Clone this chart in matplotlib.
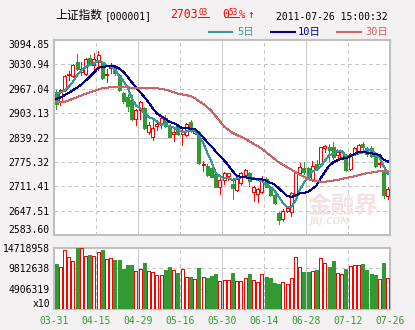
import matplotlib
matplotlib.use("Agg")
import matplotlib.pyplot as plt
from matplotlib.lines import Line2D

plt.rcParams['font.family'] = ['DejaVu Sans Mono', 'Noto Sans CJK SC']

# 上证指数 日K 2011-03-31 ~ 2011-07-26
opens = [2953.9, 2932.0, 2962.7, 3002.0, 2999.4, 3037.1, 3010.8, 3004.7, 3047.6, 3028.3,
         3041.4, 3037.1, 3003.8, 3021.3, 3023.9, 3002.0, 2955.6, 2945.1, 2936.4, 2886.5,
         2910.1, 2916.3, 2853.2, 2841.8, 2868.1, 2873.4, 2890.9, 2868.1, 2848.8, 2868.1,
         2848.8, 2844.5, 2879.5, 2850.6, 2853.2, 2766.5, 2765.6, 2758.7, 2743.8, 2708.8,
         2728.0, 2739.4, 2717.5, 2702.6, 2719.3, 2742.0, 2746.4, 2695.6, 2691.2, 2695.6,
         2730.6, 2710.5, 2688.6, 2641.3, 2625.6, 2647.5, 2643.1, 2691.2, 2745.5, 2759.6,
         2758.7, 2730.6, 2770.0, 2770.0, 2811.2, 2813.8, 2813.8, 2794.5, 2789.3, 2792.0,
         2756.9, 2798.0, 2803.3, 2822.6, 2811.2, 2811.2, 2796.3, 2770.0, 2754.3, 2686.9]
highs = [2962.7, 2967.0, 3002.0, 3012.6, 3030.9, 3057.2, 3037.0, 3047.6, 3054.6, 3060.7,
         3066.0, 3039.7, 3019.6, 3034.4, 3028.3, 3004.7, 2958.3, 2953.9, 2949.5, 2914.5,
         2933.8, 2919.0, 2879.5, 2882.1, 2882.1, 2892.6, 2897.0, 2873.4, 2864.6, 2873.4,
         2866.4, 2876.8, 2883.9, 2864.6, 2855.0, 2777.0, 2770.0, 2761.3, 2748.2, 2733.3,
         2748.2, 2747.3, 2730.6, 2733.3, 2748.2, 2757.0, 2748.2, 2713.1, 2707.0, 2739.4,
         2735.0, 2713.1, 2691.2, 2643.1, 2651.9, 2660.6, 2695.6, 2750.8, 2771.8, 2774.4,
         2763.0, 2777.0, 2780.4, 2815.6, 2820.8, 2822.6, 2826.9, 2806.8, 2807.7, 2796.3,
         2798.0, 2815.6, 2822.6, 2826.9, 2815.6, 2818.2, 2800.7, 2783.2, 2758.7, 2708.8]
lows = [2914.5, 2923.3, 2961.0, 2989.0, 2997.7, 3015.2, 3002.0, 3002.0, 3028.3, 3019.6,
        3015.2, 2993.3, 2985.0, 3009.0, 3002.0, 2960.9, 2929.4, 2908.4, 2883.9, 2870.7,
        2888.2, 2862.0, 2848.8, 2833.0, 2859.3, 2864.6, 2866.4, 2840.0, 2831.3, 2847.0,
        2820.8, 2842.7, 2853.2, 2848.8, 2770.0, 2752.5, 2739.4, 2735.0, 2708.8, 2691.2,
        2717.0, 2728.0, 2678.0, 2700.0, 2715.8, 2739.4, 2713.1, 2672.0, 2669.5, 2693.0,
        2708.8, 2686.9, 2664.9, 2612.5, 2621.2, 2643.1, 2634.4, 2689.5, 2742.0, 2743.8,
        2730.6, 2726.2, 2757.0, 2768.3, 2801.0, 2778.0, 2783.2, 2783.2, 2785.8, 2752.5,
        2755.2, 2794.5, 2801.0, 2809.4, 2792.0, 2789.3, 2763.0, 2761.3, 2680.7, 2678.0]
closes = [2927.6, 2964.4, 2999.4, 3006.4, 3028.3, 3017.8, 3019.6, 3045.8, 3035.3, 3045.8,
          3054.6, 2995.9, 3006.4, 3026.6, 3008.2, 2962.7, 2934.6, 2921.5, 2886.5, 2910.1,
          2932.0, 2864.6, 2872.5, 2864.6, 2873.4, 2890.0, 2868.1, 2841.8, 2853.2, 2848.8,
          2855.0, 2875.1, 2855.0, 2855.9, 2772.7, 2770.0, 2742.0, 2736.8, 2710.5, 2728.9,
          2746.4, 2745.5, 2707.0, 2730.6, 2745.5, 2754.3, 2724.5, 2708.8, 2704.4, 2730.6,
          2710.5, 2689.5, 2667.6, 2623.0, 2647.5, 2654.5, 2693.0, 2748.2, 2761.3, 2748.2,
          2735.0, 2765.6, 2758.7, 2813.8, 2816.4, 2807.7, 2787.6, 2800.7, 2805.0, 2754.3,
          2796.3, 2812.0, 2820.8, 2815.6, 2796.3, 2792.0, 2765.6, 2773.5, 2688.75, 2703.03]
volumes = [10837000, 10028300, 14233700, 12454500, 11484000, 14638000, 14718958, 12778000, 13020600, 12760000,
           13667600, 14190000, 11969300, 12211900, 11807500, 11780000, 9704800, 10594400, 10570000, 9219600,
           9623900, 10998800, 9057800, 9040000, 8168200, 8087300, 9381300, 10028300, 9300400, 8653400,
           9543000, 7683000, 7660000, 7197700, 9866600, 7690000, 7440400, 7925600, 8410800, 6712500,
           6955100, 6940000, 8653400, 6793400, 6700000, 7359500, 8410800, 6955100, 6469900, 8400000,
           7602100, 7359500, 6389000, 5984600, 6631600, 5990000, 7359500, 12535400, 10028300, 8896100,
           8880000, 9057800, 9381300, 12292800, 10998800, 10028300, 11564900, 8572600, 8560000, 9623900,
           10400000, 10513500, 10675300, 10837000, 9462200, 8330000, 8087300, 7197700, 11079700, 7440400]

ma5 = [2955.0, 2957.0, 2962.0, 2972.0, 2985.2, 3003.3, 3014.3, 3023.6, 3029.4, 3032.9,
       3040.2, 3035.5, 3027.6, 3025.9, 3018.3, 3000.0, 2987.7, 2970.7, 2942.7, 2923.1,
       2916.9, 2902.9, 2893.1, 2888.8, 2881.4, 2873.0, 2873.7, 2867.6, 2865.3, 2860.4,
       2853.4, 2854.8, 2857.4, 2858.0, 2842.7, 2825.7, 2799.1, 2775.5, 2746.4, 2737.6,
       2732.9, 2733.6, 2727.7, 2731.7, 2735.0, 2736.6, 2732.4, 2732.7, 2727.5, 2724.5,
       2715.8, 2708.8, 2700.5, 2684.2, 2667.6, 2656.4, 2657.1, 2673.2, 2700.9, 2721.0,
       2737.1, 2751.7, 2753.8, 2764.3, 2777.9, 2792.4, 2796.8, 2805.2, 2803.5, 2791.1,
       2788.8, 2793.7, 2797.7, 2799.8, 2808.2, 2807.3, 2798.1, 2788.6, 2763.2, 2744.6]
ma10 = [2940.0, 2944.0, 2950.0, 2956.0, 2963.0, 2970.0, 2978.0, 2988.0, 2998.0, 3009.0,
        3021.7, 3024.9, 3025.6, 3027.6, 3025.6, 3020.1, 3011.6, 2999.2, 2984.3, 2970.7,
        2958.5, 2945.3, 2931.9, 2915.7, 2902.3, 2895.0, 2888.3, 2880.4, 2877.0, 2870.9,
        2863.2, 2864.3, 2862.5, 2861.6, 2851.6, 2839.6, 2827.0, 2816.5, 2802.2, 2790.2,
        2779.3, 2766.4, 2751.6, 2739.0, 2736.3, 2734.8, 2733.0, 2730.2, 2729.6, 2729.8,
        2726.2, 2720.6, 2716.6, 2705.9, 2696.1, 2686.1, 2682.9, 2686.9, 2692.6, 2694.3,
        2696.8, 2704.4, 2713.5, 2732.6, 2749.5, 2764.8, 2774.3, 2779.5, 2783.9, 2784.5,
        2790.6, 2795.3, 2801.5, 2801.6, 2799.6, 2798.1, 2795.9, 2793.1, 2781.5, 2776.4]
ma30 = [2932.0, 2932.0, 2932.9, 2936.4, 2940.8, 2945.1, 2949.5, 2953.9, 2957.4, 2960.9,
        2965.0, 2968.4, 2970.0, 2970.6, 2970.6, 2970.6, 2970.4, 2970.4, 2970.2, 2970.2,
        2970.2, 2970.0, 2969.7, 2969.3, 2968.4, 2966.8, 2964.6, 2961.7, 2958.3, 2953.9,
        2952.1, 2950.4, 2947.8, 2942.5, 2934.6, 2927.6, 2918.9, 2908.4, 2895.2, 2882.1,
        2868.1, 2859.3, 2851.5, 2846.2, 2841.0, 2835.7, 2829.6, 2822.6, 2816.4, 2809.4,
        2800.7, 2791.9, 2783.2, 2774.4, 2768.3, 2761.3, 2755.2, 2748.2, 2742.0, 2736.8,
        2730.6, 2727.1, 2724.5, 2723.6, 2723.6, 2724.5, 2726.2, 2728.0, 2730.6, 2733.3,
        2735.0, 2737.6, 2740.3, 2743.0, 2745.5, 2747.3, 2749.0, 2750.8, 2752.5, 2750.8]

date_labels = ['03-31', '04-15', '04-29', '05-16', '05-30', '06-14', '06-28', '07-12', '07-26']
price_ticks = [2583.60, 2647.51, 2711.41, 2775.32, 2839.22, 2903.13, 2967.04, 3030.94, 3094.85]
vol_ticks = [0, 4906319, 9812638, 14718958]
vol_labels = ['x10', '4906319', '9812638', '14718958']

UP = '#ff0000'
DOWN = '#339933'
GRID = '#c8c8c8'
BORDER = '#c0c0c0'
PX = 0.72  # 1像素线宽

W, H = 415, 330
fig = plt.figure(figsize=(W / 100, H / 100), dpi=100, facecolor='#f3f1f1')
ax = fig.add_axes([54 / W, 1 - 235 / H, 336 / W, 195 / H])
axv = fig.add_axes([54 / W, 1 - 309 / H, 336 / W, 61 / H])

n = len(closes)
xs = [i + 0.5 for i in range(n)]

# 网格: 每20天实线, 其余虚线
for a in (ax, axv):
    a.set_xlim(0, n)
    for k in range(10, n, 10):
        if k % 20 == 0:
            a.axvline(k, color=GRID, lw=PX, zorder=0.6, antialiased=False)
        else:
            a.axvline(k, color=GRID, lw=PX, ls=(0, (4, 3)), zorder=0.6, antialiased=False)
    for s in a.spines.values():
        s.set_color(BORDER)
        s.set_linewidth(1.5)
    a.set_facecolor('white')
    a.tick_params(length=0, labelsize=7)

for t in price_ticks[1:-1]:
    if t == price_ticks[4]:
        ax.axhline(t, color=GRID, lw=PX, zorder=0.6, antialiased=False)
    else:
        ax.axhline(t, color=GRID, lw=PX, ls=(0, (4, 3)), zorder=0.6, antialiased=False)
for t in vol_ticks[1:-1]:
    axv.axhline(t, color=GRID, lw=PX, ls=(0, (4, 3)), zorder=0.6, antialiased=False)

# K线与成交量
for i in range(n):
    o, h, l, c = opens[i], highs[i], lows[i], closes[i]
    up = c >= o
    col = UP if up else DOWN
    ax.vlines(xs[i], l, h, color=col, lw=PX, zorder=2, antialiased=False)
    ax.bar(xs[i], max(abs(c - o), 0.8), bottom=min(o, c), width=0.7,
           facecolor='white' if up else col, edgecolor=col, linewidth=0.5, zorder=3,
           antialiased=False)
    axv.bar(xs[i], volumes[i], width=0.7, facecolor='white' if up else col,
            edgecolor=col, linewidth=0.5, zorder=3, antialiased=False)

ax.plot(xs, ma5, color='#339999', lw=PX, zorder=4, antialiased=False)
ax.plot(xs, ma10, color='#000099', lw=PX, zorder=4, antialiased=False)
ax.plot(xs, ma30, color='#cc6666', lw=PX, zorder=4, antialiased=False)

# 水印
ax.text(0.755, 0.115, '金融界', transform=ax.transAxes, fontsize=17, fontweight='bold',
        color='#f3e2e2', family=['Noto Sans CJK SC'], zorder=1)
ax.text(0.76, 0.055, 'JRJ.COM', transform=ax.transAxes, fontsize=6.5, fontweight='bold',
        style='italic', color='#f3e2e2', family=['DejaVu Sans'], zorder=1)

ax.set_ylim(price_ticks[0], price_ticks[-1])
ax.set_yticks(price_ticks)
ax.set_yticklabels(['%.2f' % t for t in price_ticks])
ax.tick_params(pad=3)
ax.get_yticklabels()[0].set_va('bottom')
ax.get_yticklabels()[-1].set_va('top')
ax.set_xticks([])

axv.set_ylim(0, vol_ticks[-1])
axv.set_yticks(vol_ticks)
axv.set_yticklabels(vol_labels)
axv.set_xticks(range(0, n + 1, 10))
axv.set_xticklabels(date_labels, color=DOWN)
axv.tick_params(axis='y', pad=3)
axv.tick_params(axis='x', pad=5)
axv.get_yticklabels()[0].set_va('bottom')


def fx(x):
    return x / W


def fy(y):
    return 1 - y / H


# 标题行
fig.text(fx(55), fy(15.3), '上证指数', fontsize=8.5, va='center', family=['Noto Sans CJK SC'])
fig.text(fx(105), fy(19.3), '[000001]', fontsize=7, va='baseline')
fig.text(fx(170.5), fy(18.3), '2703', fontsize=8.3, color=UP, va='baseline')
fig.text(fx(198.5), fy(15), '03', fontsize=5.5, color=UP, va='baseline')
fig.add_artist(Line2D([fx(198), fx(209)], [fy(17.3), fy(17.3)], color=UP, lw=0.7))
fig.text(fx(222), fy(18.3), '0', fontsize=8.3, color=UP, va='baseline')
fig.text(fx(228.5), fy(15), '53', fontsize=5.5, color=UP, va='baseline')
fig.add_artist(Line2D([fx(228), fx(239)], [fy(17.3), fy(17.3)], color=UP, lw=0.7))
fig.text(fx(239), fy(18.3), '%', fontsize=7.5, color=UP, va='baseline')
fig.text(fx(247), fy(18.3), '↑', fontsize=8, color=UP, va='baseline')
fig.text(fx(276), fy(20), '2011-07-26 15:00:32', fontsize=7, va='baseline')

# 均线图例
legend = [('5日', '#339999', 209, 232, 237), ('10日', '#000099', 271, 295, 298),
          ('30日', '#cc6666', 337, 361, 365)]
for label, col, x0, x1, xt in legend:
    fig.add_artist(Line2D([fx(x0), fx(x1)], [fy(32.3), fy(32.3)], color=col, lw=1.5))
    fig.text(fx(xt), fy(32.3), label, fontsize=7.5, color=col, va='center')

fig.savefig('out.png', dpi=100, facecolor=fig.get_facecolor())
